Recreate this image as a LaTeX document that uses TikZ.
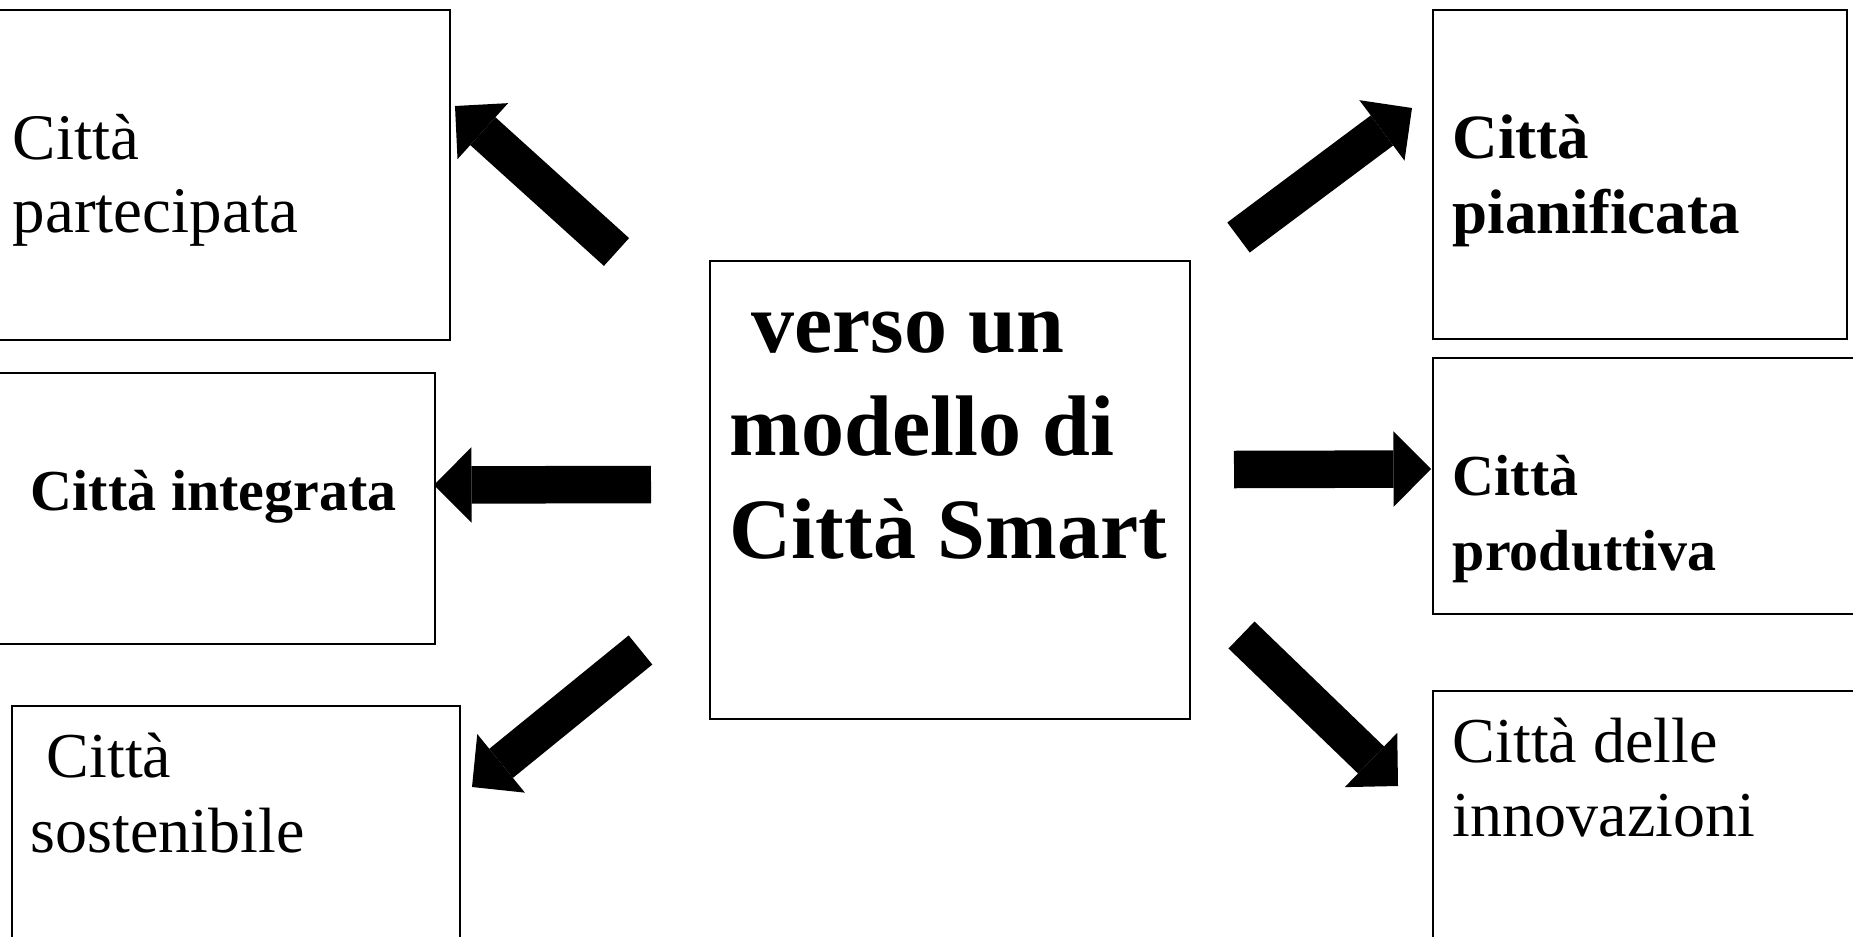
\documentclass[tikz,border=0pt]{standalone}
\usepackage{fontspec}
\setmainfont{Liberation Serif}
\usetikzlibrary{arrows.meta}

\begin{document}
\begin{tikzpicture}[x=1pt,y=-1pt,
	box/.style={draw,line width=1.8pt,inner ysep=0pt,anchor=base west},
	blockarrow/.style={line width=37.5pt,-{Triangle[length=37.5pt,width=75.5pt,line width=0pt]}}]

\useasboundingbox (0,0) rectangle (1853,937);

% The centre
\node[box,inner xsep=20pt,text height=91pt,text depth=367pt,font=\fontsize{86}{103}\selectfont\bfseries] (smart) at (709,352) {\parbox[t]{440pt}{~verso un\\modello di\\Città Smart}};

% The boxes on the left
\node[box,inner xsep=17pt,text height=149pt,text depth=181pt,font=\fontsize{65}{73}\selectfont] (partecipata) at (-5,159) {\parbox[t]{420pt}{Città\\partecipata}};
\node[box,inner xsep=35pt,text height=137pt,text depth=134pt,font=\fontsize{58}{73}\selectfont\bfseries] (integrata) at (-5,510) {\parbox[t]{369pt}{Città integrata}};
\node[box,inner xsep=19pt,text height=71pt,text depth=183pt,font=\fontsize{64}{75}\selectfont] (sostenibile) at (11,777) {\parbox[t]{410pt}{~Città\\sostenibile}};

% The boxes on the right
\node[box,inner xsep=20pt,text height=148pt,text depth=181pt,font=\fontsize{63}{75}\selectfont\bfseries] (pianificata) at (1432,158) {\parbox[t]{374pt}{Città\\pianificata}};
\node[box,inner xsep=20pt,text height=137pt,text depth=119pt,font=\fontsize{58}{75}\selectfont\bfseries] (produttiva) at (1432,495) {\parbox[t]{398pt}{Città\\produttiva}};
\node[box,inner xsep=20pt,text height=71pt,text depth=198pt,font=\fontsize{64}{74}\selectfont] (innovazioni) at (1432,762) {\parbox[t]{398pt}{Città delle\\innovazioni}};

% The arrows
\coordinate (a1s) at (616.5,252);  \coordinate (a1e) at (455,106);
\coordinate (a2s) at (651,484.5);  \coordinate (a2e) at (434,485);
\coordinate (a3s) at (640.5,650);  \coordinate (a3e) at (472,787);
\coordinate (a4s) at (1238.5,237.5); \coordinate (a4e) at (1412,108);
\coordinate (a5s) at (1234,469.5); \coordinate (a5e) at (1431,469);
\coordinate (a6s) at (1241.5,635); \coordinate (a6e) at (1398,786);

\foreach \arr in {1,...,6}
{
	\draw[blockarrow] (a\arr s) -- (a\arr e);
}

\end{tikzpicture}
\end{document}
